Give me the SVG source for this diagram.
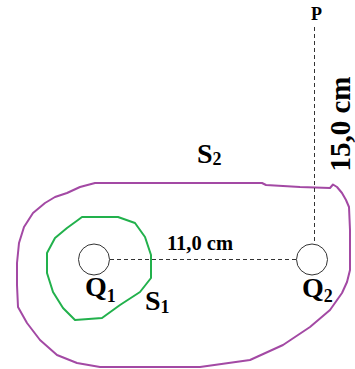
<svg xmlns="http://www.w3.org/2000/svg" width="355" height="369" viewBox="0 0 355 369">
<style>
.lbl{font-family:"Liberation Serif","Times New Roman",serif;font-weight:bold;fill:#000}
.dash{stroke:#333;stroke-width:1;stroke-dasharray:4 3;fill:none}
.chg{stroke:#333;stroke-width:1;fill:#fff}
.surf{fill:none;stroke-width:2;stroke-linejoin:round}
</style>
<rect width="355" height="369" fill="#fff"/>
<g id="S2">
<polygon class="surf" stroke="#a349a4" points="95,183 262,183 266,185 300,187 330,188 333,184.5 337,187 342,193 346,200 349,207 350,230 350,270 347,282 342,293 330,310 310,327 283,345 250,360 200,367 100,367 77,363 57,355 40,340 27,323 18,307 17,285 17,263 19,243 24,227 33,213 45,203 55,197 67,193 80,187"/>
<text class="lbl" x="197" y="163" font-size="28">S<tspan font-size="18" dy="2">2</tspan></text>
</g>
<g id="S1">
<polygon class="surf" stroke="#22b14c" points="82,217 118,217 135,223 145,237 151,255 151,278 140,292 120,305 102,318 75,320 63,308 53,292 47,273 47,253 55,238 67,228 78,220"/>
<text class="lbl" x="145" y="310" font-size="28">S<tspan font-size="18" dy="3">1</tspan></text>
</g>
<g id="connectors">
<line class="dash" x1="110" y1="259.5" x2="297" y2="259.5"/>
<line class="dash" x1="314.5" y1="27" x2="314.5" y2="244"/>
<text class="lbl" x="167" y="250" font-size="20.5">11,0 cm</text>
<text class="lbl" font-size="29" text-anchor="middle" transform="translate(350,124) rotate(-90)">15,0 cm</text>
</g>
<g id="Q1">
<circle class="chg" cx="94" cy="259.5" r="15.5"/>
<text class="lbl" x="85" y="296" font-size="28">Q<tspan font-size="18" dy="6">1</tspan></text>
</g>
<g id="Q2">
<circle class="chg" cx="312" cy="259.5" r="15.5"/>
<text class="lbl" x="302" y="297" font-size="28">Q<tspan font-size="18" dy="5">2</tspan></text>
</g>
<g id="P">
<text class="lbl" x="311" y="20" font-size="18">P</text>
</g>
</svg>
